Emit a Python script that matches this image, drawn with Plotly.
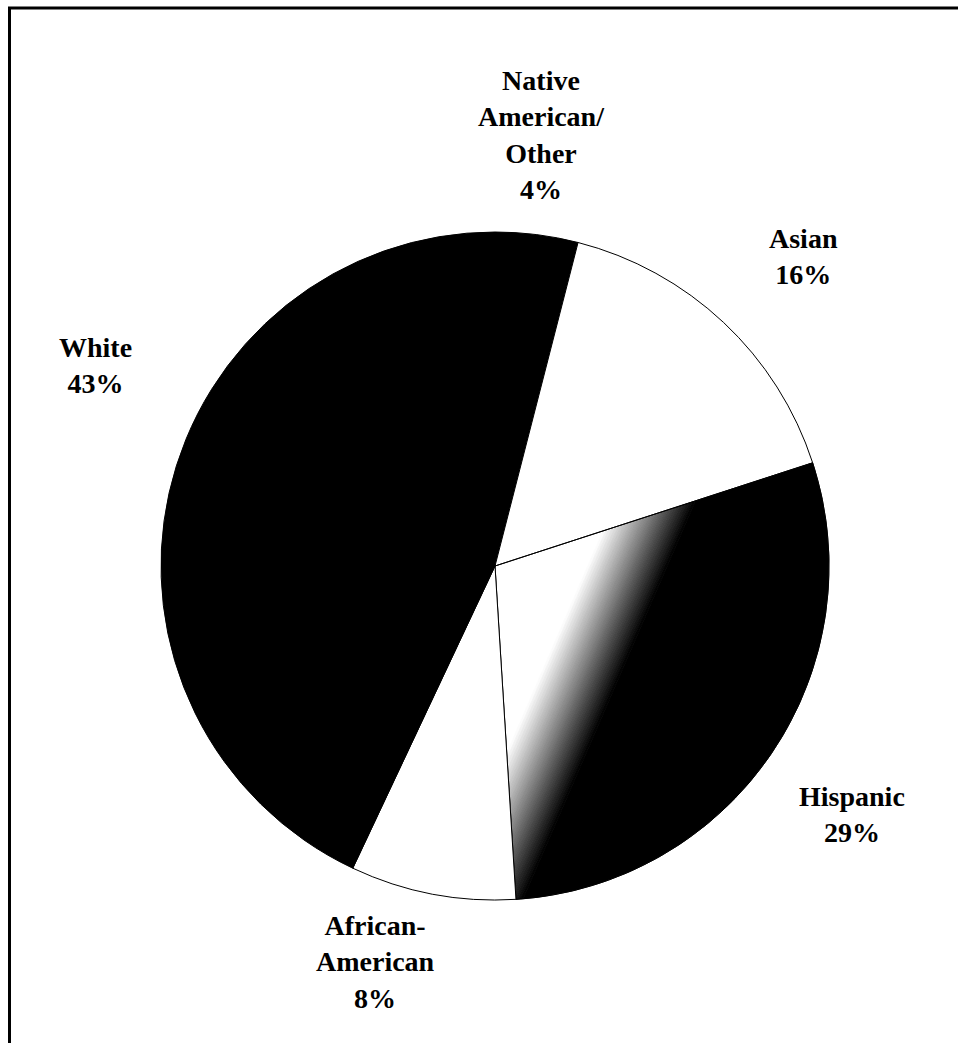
import math
import plotly.graph_objects as go

# Data
categories = ["Native American/Other", "Asian", "Hispanic", "African-American", "White"]
label_text = ["Native<br>American/<br>Other", "Asian", "Hispanic", "African-<br>American", "White"]
values = [4, 16, 29, 8, 43]
slice_colors = ["#000000", "#ffffff", "rgba(0,0,0,0)", "#ffffff", "#000000"]

W, H = 958, 1043
cx, cy, r = 495, 566, 334

fig = go.Figure()

# --- shaded (gradient) fill for the Hispanic slice, drawn beneath the pie outlines ---
total = sum(values)
idx = categories.index("Hispanic")
a0 = sum(values[:idx]) / total * 2 * math.pi
a1 = sum(values[:idx + 1]) / total * 2 * math.pi
n_arc = 80
wedge = [(cx, cy)] + [
    (cx + r * math.sin(a0 + (a1 - a0) * k / n_arc), cy - r * math.cos(a0 + (a1 - a0) * k / n_arc))
    for k in range(n_arc + 1)
]
nx, ny = 0.917, 0.397          # gradient direction (screen px, y downward)
g_lo, g_hi = 85.0, 158.0       # white -> black transition along that direction


def proj(p):
    return nx * (p[0] - cx) + ny * (p[1] - cy)


def clip(poly, keep):  # keep where keep(p) >= 0
    out = []
    n = len(poly)
    for i in range(n):
        A, B = poly[i], poly[(i + 1) % n]
        fa, fb = keep(A), keep(B)
        if fa >= 0:
            out.append(A)
        if (fa >= 0) != (fb >= 0):
            t = fa / (fa - fb)
            out.append((A[0] + t * (B[0] - A[0]), A[1] + t * (B[1] - A[1])))
    return out


n_bands = 30
edges = [-1e4] + [g_lo + (g_hi - g_lo) * k / n_bands for k in range(n_bands + 1)] + [1e4]
for k in range(len(edges) - 1):
    lo, hi = edges[k], edges[k + 1]
    poly = clip(wedge, lambda p, lo=lo: proj(p) - lo)
    poly = clip(poly, lambda p, hi=hi: hi - proj(p))
    if len(poly) < 3:
        continue
    if lo < g_lo:
        frac = 0.0
    elif hi > g_hi:
        frac = 1.0
    else:
        frac = ((lo + hi) / 2 - g_lo) / (g_hi - g_lo)
    v = int(round(255 * (1 - frac)))
    col = f"rgb({v},{v},{v})"
    xs = [p[0] for p in poly] + [poly[0][0]]
    ys = [p[1] for p in poly] + [poly[0][1]]
    fig.add_trace(go.Scatter(
        x=xs, y=ys, mode="lines", fill="toself", fillcolor=col,
        line=dict(color=col, width=0.8), hoverinfo="skip", showlegend=False,
    ))

# --- the pie itself ---
fig.add_trace(go.Pie(
    labels=categories,
    values=values,
    sort=False,
    direction="clockwise",
    rotation=0,
    textinfo="none",
    hoverinfo="label+percent",
    marker=dict(colors=slice_colors, line=dict(color="#000000", width=1)),
    domain=dict(x=[(cx - r) / W, (cx + r) / W], y=[(H - cy - r) / H, (H - cy + r) / H]),
    showlegend=False,
))

# label positions (pixel centres)
label_pos = [(541, 135), (803, 257), (852, 814), (375, 962), (95, 366)]
for txt, v, (px, py) in zip(label_text, values, label_pos):
    fig.add_annotation(
        x=px / W, y=1 - py / H, xref="paper", yref="paper",
        text=f"<b>{txt}<br>{v}%</b>", showarrow=False,
        xanchor="center", yanchor="middle", align="center",
        font=dict(family="Liberation Serif, Times New Roman, serif", size=28, color="#000000"),
    )

# frame (top and left edges visible)
fig.add_shape(type="line", xref="paper", yref="paper", x0=8 / W, x1=1.0, y0=1 - 8 / H, y1=1 - 8 / H,
              line=dict(color="#000000", width=3))
fig.add_shape(type="line", xref="paper", yref="paper", x0=9.5 / W, x1=9.5 / W, y0=0, y1=1 - 7 / H,
              line=dict(color="#000000", width=3))

fig.update_layout(
    width=W, height=H,
    margin=dict(l=0, r=0, t=0, b=0),
    paper_bgcolor="#ffffff", plot_bgcolor="#ffffff",
    xaxis=dict(range=[0, W], visible=False, fixedrange=True, domain=[0, 1]),
    yaxis=dict(range=[H, 0], visible=False, fixedrange=True, domain=[0, 1]),
)
fig.write_html("out.html")
